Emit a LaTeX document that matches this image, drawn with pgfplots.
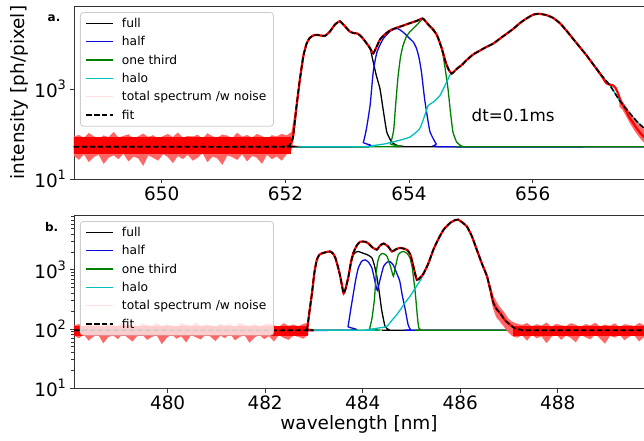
\documentclass[border=0pt]{standalone}
\usepackage{fontspec}
\setmainfont{DejaVu Sans}
\usepackage{pgfplots}
\pgfplotsset{compat=1.18}
\usepackage{pgfplotstable}

\definecolor{mblue}{RGB}{10,10,225}
\definecolor{mgreen}{RGB}{0,128,0}
\definecolor{mcyan}{RGB}{0,191,191}
\definecolor{lgray}{RGB}{204,204,204}

\newcommand{\tkfont}{\fontsize{18.5}{20}\selectfont}
\newcommand{\lgfont}{\fontsize{12.3}{14}\selectfont}
\newcommand{\ep}[1]{10\raisebox{0.42em}{\fontsize{13}{13}\selectfont #1}}

\tikzset{
  comp/.style={line width=1.3bp, smooth, tension=0.3},
  fitline/.style={black, line width=1.6bp, dash pattern=on 5.5bp off 2.4bp, smooth, tension=0.3},
  totline/.style={red, line width=2.2bp, smooth, tension=0.3},
  noiseband/.style={fill=red!60, draw=red!60, line width=0.3bp},
}

% ---------------- panel a (top) ----------------
\pgfplotstableread{
x y
648.58 52
651.95 52
652.02 53
652.07 57
652.12 82
652.18 420
652.23 1500
652.29 5400
652.34 10000
652.39 13500
652.45 15500
652.50 16000
652.57 15500
652.64 15200
652.72 19000
652.80 27000
652.88 32000
652.96 25000
653.04 19000
653.10 17500
653.17 17000
653.24 14000
653.31 10500
653.37 7900
653.42 4000
653.47 2000
653.53 1000
653.58 355
653.64 110
653.72 66
653.80 56
653.90 53
654.00 52
657.80 52
}\fullA

\pgfplotstableread{
x y
648.58 52
653.20 52
653.26 65
653.31 130
653.37 440
653.42 2400
653.48 6600
653.58 13000
653.69 19000
653.76 21500
653.82 22000
653.90 18500
653.96 15500
654.01 13200
654.07 11000
654.12 8000
654.16 5000
654.20 2400
654.25 620
654.30 220
654.34 110
654.44 60
654.55 52
657.80 52
}\halfA

\pgfplotstableread{
x y
648.58 52
653.66 52
653.70 60
653.75 120
653.78 400
653.82 1800
653.86 5000
653.90 9000
653.95 14000
654.01 18500
654.12 26000
654.22 36000
654.27 32000
654.32 26000
654.39 22000
654.45 16000
654.50 11000
654.55 5600
654.59 2500
654.63 1000
654.67 300
654.71 110
654.77 66
654.85 54
654.95 52
657.80 52
}\thirdA

\pgfplotstableread{
x y
648.58 52
653.15 52
653.40 55
653.60 60
653.80 70
654.01 85
654.17 130
654.25 250
654.31 430
654.39 510
654.50 720
654.61 1450
654.66 2050
654.69 2200
654.77 2800
654.85 3400
654.93 4400
655.04 5900
655.15 7200
655.25 8600
655.36 10200
655.47 13200
655.58 17000
655.69 22000
655.79 29000
655.90 37000
656.01 45000
656.10 47000
656.22 44000
656.33 38000
656.44 29000
656.55 19500
656.65 13200
656.76 8600
656.87 5600
656.98 3500
657.09 2200
657.25 1200
657.41 540
657.52 350
657.62 240
657.71 175
657.80 135
}\haloA

\pgfplotstableread{
x y
648.58 52
651.95 52
652.02 53
652.07 57
652.12 82
652.18 420
652.23 1500
652.29 5400
652.34 10000
652.39 13500
652.45 15500
652.50 16000
652.57 15500
652.64 15200
652.72 19000
652.80 27000
652.88 32000
652.96 25000
653.04 19000
653.10 17500
653.17 17000
653.24 14000
653.31 10500
653.37 8000
653.42 6200
653.48 9000
653.53 12600
653.60 16000
653.69 20000
653.80 23000
653.88 25000
654.01 29000
654.12 32500
654.22 37000
654.30 28000
654.38 21400
654.45 15800
654.53 7900
654.59 4000
654.64 2700
654.69 2200
654.77 2800
654.85 3400
654.93 4400
655.04 5900
655.15 7200
655.25 8600
655.36 10200
655.47 13200
655.58 17000
655.69 22000
655.79 29000
655.90 37000
656.01 45000
656.10 47000
656.22 44000
656.33 38000
656.44 29000
656.55 19500
656.65 13200
656.76 8600
656.87 5600
656.98 3500
657.09 2200
657.25 1200
657.41 540
657.52 350
657.62 240
657.71 175
657.80 135
}\fitA

\pgfplotstableread{
x y
657.05 2600
657.12 1900
657.19 1350
657.25 1250
657.30 1200
657.34 1050
657.38 800
657.42 560
657.46 440
657.52 310
657.57 225
657.62 180
657.68 135
657.74 105
657.80 85
}\tailA

% ---------------- panel b (bottom) ----------------
\pgfplotstableread{
x y
478.08 95
482.80 95
482.86 100
482.91 200
482.96 400
483.01 900
483.06 1480
483.11 1800
483.16 1900
483.25 2000
483.33 2050
483.39 1900
483.44 1600
483.49 1150
483.54 780
483.58 520
483.61 400
483.65 480
483.71 780
483.76 1300
483.81 1800
483.86 2000
483.91 2050
484.02 1900
484.10 1800
484.19 1600
484.24 1200
484.29 780
484.34 420
484.39 210
484.46 110
484.55 96
484.60 95
489.77 95
}\fullB

\pgfplotstableread{
x y
478.08 95
483.65 95
483.70 110
483.75 200
483.81 400
483.86 700
483.91 1070
483.98 1400
484.05 1480
484.12 1350
484.19 1070
484.25 650
484.30 450
484.36 700
484.43 1150
484.50 1350
484.56 1380
484.63 1200
484.70 870
484.76 650
484.81 380
484.87 220
484.93 120
484.98 97
485.05 95
489.77 95
}\halfB

\pgfplotstableread{
x y
478.08 95
484.10 95
484.14 100
484.19 150
484.24 310
484.28 900
484.31 1400
484.35 1750
484.40 1900
484.45 1850
484.50 1700
484.57 1150
484.63 780
484.67 1100
484.73 1800
484.79 2000
484.84 2050
484.91 1900
484.97 1600
485.02 1050
485.08 400
485.12 170
485.15 105
485.20 96
485.25 95
489.77 95
}\thirdB

\pgfplotstableread{
x y
478.08 95
483.95 95
484.10 97
484.30 103
484.49 110
484.60 140
484.70 175
484.77 210
484.87 280
484.97 355
485.05 450
485.14 590
485.20 700
485.25 870
485.35 1300
485.45 2200
485.55 3300
485.66 4800
485.80 6300
485.90 7000
485.96 7100
486.05 6300
486.14 5400
486.24 3700
486.34 2200
486.45 1250
486.55 780
486.62 450
486.68 280
486.75 215
486.82 185
486.92 140
487.03 117
487.12 102
487.25 97
487.40 95
489.77 95
}\haloB

\pgfplotstableread{
x y
478.08 95
482.80 95
482.86 100
482.91 200
482.96 400
483.01 900
483.06 1480
483.11 1800
483.16 1900
483.25 2000
483.33 2050
483.39 1900
483.44 1600
483.49 1150
483.54 780
483.58 520
483.61 400
483.65 480
483.71 780
483.76 1350
483.81 1950
483.88 2600
483.95 3000
484.05 3000
484.12 2800
484.20 2400
484.29 2200
484.36 2600
484.43 2800
484.52 2500
484.60 2050
484.67 2200
484.75 2350
484.84 2300
484.92 2150
484.98 1800
485.04 1150
485.11 680
485.18 740
485.25 870
485.35 1300
485.45 2200
485.55 3300
485.66 4800
485.80 6300
485.90 7000
485.96 7100
486.05 6300
486.14 5400
486.24 3700
486.34 2200
486.45 1250
486.55 780
486.62 450
486.68 280
486.75 215
486.82 185
486.92 140
487.03 117
487.12 102
487.25 97
487.40 95
489.77 95
}\fitB

\begin{document}
\begin{tikzpicture}
\useasboundingbox (0,0) rectangle (644bp,-441bp);

% ===== top panel =====
\begin{axis}[at={(74bp,-179bp)}, anchor=south west,
  ymode=log, scale only axis, width=570bp, height=173bp,
  axis x line*=box, axis y line*=left,
  axis line style={black!80, line width=0.8bp},
  tick style={black!80, line width=0.8bp},
  tick align=outside, xtick pos=left, ytick pos=left,
  major tick length=4.5bp, minor tick length=2.6bp,
  ticklabel style={font=\tkfont},
  /pgf/number format/assume math mode=true,
  legend cell align=left,
  legend style={at={(axis description cs:0.0105,0.965)}, anchor=north west,
    draw=lgray, line width=0.8bp, fill=white, fill opacity=0.8, text opacity=1,
    rounded corners=3bp, font=\lgfont, inner xsep=5bp, inner ysep=3.5bp, row sep=3.6bp,
    /tikz/every odd column/.append style={column sep=6bp}},
  legend image code/.code={\draw[#1] (0bp,0bp) -- (27bp,0bp);},
  xmin=648.58, xmax=657.80, ymin=10, ymax=70000,
  xtick={650,652,654,656},
  ytick={10,1000}, yticklabels={\ep{1},\ep{3}},
  ylabel={intensity [ph/pixel]},
  ylabel style={font=\tkfont, at={(axis description cs:-0.0956,0.5)}, anchor=center},
]
\addplot[comp, black] table[x=x,y=y] {\fullA};
\addlegendentry{full}
\addplot[comp, mblue] table[x=x,y=y] {\halfA};
\addlegendentry{half}
\addplot[comp, mgreen] table[x=x,y=y] {\thirdA};
\addlegendentry{one third}
\addplot[comp, mcyan] table[x=x,y=y] {\haloA};
\addlegendentry{halo}
\addplot[noiseband, forget plot] coordinates {
(648.58,86) (648.66,95) (648.74,80) (648.82,104) (648.90,88) (648.98,78) (649.06,92) (649.14,84) (649.22,110) (649.30,82) (649.38,90) (649.46,97) (649.54,79) (649.62,88) (649.70,101) (649.78,85) (649.86,93) (649.94,76) (650.02,89) (650.10,99) (650.18,84) (650.26,107) (650.34,81) (650.42,90) (650.50,87) (650.58,95) (650.66,78) (650.74,102) (650.82,88) (650.90,83) (650.98,96) (651.06,91) (651.14,80) (651.22,105) (651.30,86) (651.38,94) (651.46,82) (651.54,99) (651.62,89) (651.70,77) (651.78,93) (651.86,87) (651.94,100) (652.02,92) (652.10,110) (652.14,230) (652.17,430)
(652.17,250) (652.14,100) (652.10,45) (652.02,36) (651.94,26) (651.86,32) (651.78,28) (651.70,35) (651.62,22) (651.54,30) (651.46,33) (651.38,25) (651.30,36) (651.22,27) (651.14,31) (651.06,34) (650.98,21) (650.90,29) (650.82,32) (650.74,24) (650.66,38) (650.58,30) (650.50,26) (650.42,35) (650.34,28) (650.26,33) (650.18,23) (650.10,31) (650.02,36) (649.94,26) (649.86,30) (649.78,34) (649.70,20) (649.62,29) (649.54,32) (649.46,25) (649.38,37) (649.30,28) (649.22,34) (649.14,30) (649.06,22) (648.98,35) (648.90,31) (648.82,24) (648.74,36) (648.66,27) (648.58,33)
};
\addplot[red, line width=17bp, forget plot] coordinates {(648.50,55) (652.09,55)};
\addplot[noiseband, forget plot] coordinates {
(657.40,620) (657.46,500) (657.52,380) (657.58,290) (657.64,220) (657.70,170) (657.76,140) (657.80,125)
(657.80,65) (657.76,75) (657.70,95) (657.64,125) (657.58,170) (657.52,240) (657.46,340) (657.40,420)
};
\addplot[totline, forget plot, restrict x to domain=648:657.1] table[x=x,y=y] {\fitA};
\addplot[totline, forget plot] table[x=x,y=y] {\tailA};
\addlegendimage{red!12, line width=1bp}
\addlegendentry{total spectrum /w noise}
\addplot[fitline] table[x=x,y=y] {\fitA};
\addlegendentry{fit}
\node[anchor=west, inner sep=0pt, font=\fontsize{16.8}{18}\selectfont] at (axis cs:655.01,259) {dt=0.1ms};
\end{axis}

% ===== bottom panel =====
\begin{axis}[at={(74bp,-388bp)}, anchor=south west,
  ymode=log, scale only axis, width=570bp, height=173bp,
  axis x line*=box, axis y line*=left,
  axis line style={black!80, line width=0.8bp},
  tick style={black!80, line width=0.8bp},
  tick align=outside, xtick pos=left, ytick pos=left,
  major tick length=4.5bp, minor tick length=2.6bp,
  ticklabel style={font=\tkfont},
  /pgf/number format/assume math mode=true,
  legend cell align=left,
  legend style={at={(axis description cs:0.0105,0.965)}, anchor=north west,
    draw=lgray, line width=0.8bp, fill=white, fill opacity=0.8, text opacity=1,
    rounded corners=3bp, font=\lgfont, inner xsep=5bp, inner ysep=3.5bp, row sep=3.6bp,
    /tikz/every odd column/.append style={column sep=6bp}},
  legend image code/.code={\draw[#1] (0bp,0bp) -- (27bp,0bp);},
  xmin=478.08, xmax=489.77, ymin=10, ymax=8500,
  xtick={480,482,484,486,488},
  ytick={10,100,1000}, yticklabels={\ep{1},\ep{2},\ep{3}},
  minor ytick={20,30,40,50,60,70,80,90,200,300,400,500,600,700,800,900,2000,3000,4000,5000,6000,7000,8000},
  xlabel={wavelength [nm]},
  xlabel style={font=\tkfont, at={(axis description cs:0.5,-0.208)}, anchor=center},
]
\addplot[comp, black] table[x=x,y=y] {\fullB};
\addlegendentry{full}
\addplot[comp, mblue] table[x=x,y=y] {\halfB};
\addlegendentry{half}
\addplot[comp, mgreen] table[x=x,y=y] {\thirdB};
\addlegendentry{one third}
\addplot[comp, mcyan] table[x=x,y=y] {\haloB};
\addlegendentry{halo}
\addplot[noiseband, forget plot] coordinates {
(478.08,114) (478.18,120) (478.28,108) (478.38,125) (478.48,112) (478.58,117) (478.68,106) (478.78,122) (478.88,115) (478.98,110) (479.08,127) (479.18,113) (479.28,118) (479.38,107) (479.48,121) (479.58,116) (479.68,111) (479.78,124) (479.88,109) (479.98,119) (480.08,114) (480.18,105) (480.28,123) (480.38,117) (480.48,112) (480.58,126) (480.68,110) (480.78,118) (480.88,115) (480.98,108) (481.08,121) (481.18,113) (481.28,119) (481.38,106) (481.48,125) (481.58,116) (481.68,111) (481.78,120) (481.88,109) (481.98,117) (482.08,122) (482.18,114) (482.28,107) (482.38,124) (482.48,112) (482.58,118) (482.68,110) (482.78,121) (482.88,125)
(482.88,80) (482.78,69) (482.68,74) (482.58,78) (482.48,66) (482.38,71) (482.28,80) (482.18,62) (482.08,76) (481.98,68) (481.88,81) (481.78,72) (481.68,59) (481.58,79) (481.48,74) (481.38,65) (481.28,85) (481.18,70) (481.08,78) (480.98,63) (480.88,75) (480.78,82) (480.68,67) (480.58,73) (480.48,80) (480.38,60) (480.28,76) (480.18,69) (480.08,83) (479.98,71) (479.88,56) (479.78,79) (479.68,74) (479.58,66) (479.48,81) (479.38,77) (479.28,62) (479.18,72) (479.08,84) (478.98,68) (478.88,79) (478.78,73) (478.68,58) (478.58,80) (478.48,75) (478.38,64) (478.28,82) (478.18,70) (478.08,78)
};
\addplot[noiseband, forget plot] coordinates {
(486.62,560) (486.68,360) (486.74,290) (486.80,240) (486.86,210) (486.92,180) (486.98,150) (487.04,135) (487.10,128) (487.17,122) (487.27,116) (487.37,125) (487.47,110) (487.57,119) (487.67,113) (487.77,127) (487.87,108) (487.97,121) (488.07,115) (488.17,111) (488.27,124) (488.37,117) (488.47,106) (488.57,120) (488.67,114) (488.77,126) (488.87,109) (488.97,118) (489.07,112) (489.17,123) (489.27,107) (489.37,119) (489.47,116) (489.57,111) (489.67,125) (489.77,115)
(489.77,74) (489.67,62) (489.57,79) (489.47,75) (489.37,65) (489.27,81) (489.17,72) (489.07,77) (488.97,57) (488.87,69) (488.77,83) (488.67,67) (488.57,73) (488.47,80) (488.37,60) (488.27,71) (488.17,78) (488.07,66) (487.97,82) (487.87,74) (487.77,58) (487.67,76) (487.57,70) (487.47,81) (487.37,64) (487.27,79) (487.17,72) (487.10,74) (487.04,80) (486.98,90) (486.92,105) (486.86,120) (486.80,140) (486.74,160) (486.68,220) (486.62,380)
};
\addplot[red, line width=10bp, forget plot] coordinates {(478.00,91) (482.87,91)};
\addplot[red, line width=10bp, forget plot] coordinates {(487.08,91) (489.85,91)};
\addplot[totline, forget plot] table[x=x,y=y] {\fitB};
\addlegendimage{red!12, line width=1bp}
\addlegendentry{total spectrum /w noise}
\addplot[fitline] table[x=x,y=y] {\fitB};
\addlegendentry{fit}
\end{axis}

\node[font=\fontsize{12}{14}\selectfont\bfseries] at (54bp,-18bp) {a.};
\node[font=\fontsize{12}{14}\selectfont\bfseries] at (51.7bp,-226.7bp) {b.};
\end{tikzpicture}
\end{document}
